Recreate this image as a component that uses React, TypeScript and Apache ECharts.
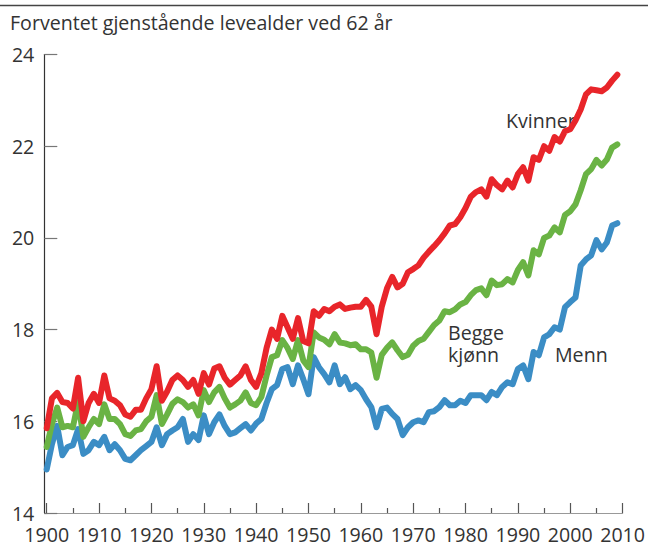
import React, { useEffect, useRef } from "react";
import * as echarts from "echarts";

const startYear = 1900;
const titleText = "Forventet gjenstående levealder ved 62 år";

// Kvinner 1900-2009
const kvinner = [
  15.85, 16.5, 16.62, 16.42, 16.4, 16.28, 16.95, 16.0, 16.4, 16.6,
  16.4, 17.0, 16.5, 16.45, 16.35, 16.15, 16.1, 16.25, 16.25, 16.5,
  16.7, 17.2, 16.45, 16.65, 16.9, 17.0, 16.9, 16.75, 16.9, 16.6,
  17.05, 16.8, 17.15, 17.2, 16.95, 16.8, 16.9, 17.0, 17.2, 16.9,
  16.75, 17.05, 17.6, 18.0, 17.8, 18.3, 18.05, 17.8, 18.25, 17.75,
  17.7, 18.4, 18.3, 18.45, 18.4, 18.5, 18.55, 18.45, 18.48, 18.5,
  18.5, 18.65, 18.5, 17.9, 18.5, 18.9, 19.15, 18.92, 19.0, 19.25,
  19.32, 19.4, 19.57, 19.7, 19.82, 19.95, 20.1, 20.27, 20.3, 20.45,
  20.65, 20.9, 21.0, 21.06, 20.9, 21.28, 21.15, 21.06, 21.25, 21.1,
  21.39, 21.54, 21.25, 21.76, 21.7, 22.0, 21.9, 22.2, 22.1, 22.33,
  22.37, 22.56, 22.8, 23.13, 23.24, 23.22, 23.2, 23.28, 23.43, 23.56,
];

// Begge kjønn 1900-2009
const begge = [
  15.44, 15.94, 16.3, 15.87, 15.9, 15.87, 16.42, 15.66, 15.87, 16.05,
  15.94, 16.37, 16.05, 16.05, 15.94, 15.72, 15.68, 15.8, 15.83, 16.0,
  16.1, 16.57, 15.94, 16.15, 16.38, 16.48, 16.42, 16.3, 16.37, 16.13,
  16.68, 16.42, 16.63, 16.75, 16.5, 16.3, 16.37, 16.45, 16.63, 16.4,
  16.35, 16.53, 17.0, 17.4, 17.44, 17.77, 17.6, 17.36, 17.77, 17.33,
  17.18, 17.94, 17.83, 17.78, 17.68, 17.9, 17.72, 17.7, 17.66, 17.68,
  17.57, 17.57, 17.5, 16.95, 17.45, 17.6, 17.72, 17.55, 17.4, 17.45,
  17.65, 17.75, 17.8, 17.95, 18.1, 18.2, 18.4, 18.38, 18.44, 18.55,
  18.6, 18.75, 18.86, 18.9, 18.75, 19.07, 18.97, 18.99, 19.1, 19.03,
  19.3, 19.47, 19.18, 19.73, 19.64, 20.0, 20.05, 20.23, 20.12, 20.5,
  20.58, 20.73, 21.04, 21.39, 21.5, 21.7, 21.58, 21.71, 21.97, 22.04,
];

// Menn 1900-2009
const menn = [
  14.95, 15.5, 15.9, 15.26, 15.44, 15.48, 15.83, 15.29, 15.37, 15.55,
  15.48, 15.66, 15.37, 15.5, 15.37, 15.18, 15.15, 15.26, 15.37, 15.46,
  15.55, 15.87, 15.48, 15.72, 15.8, 15.87, 16.05, 15.55, 15.72, 15.59,
  16.13, 15.72, 15.98, 16.15, 15.9, 15.72, 15.76, 15.85, 15.94, 15.8,
  15.95, 16.05, 16.4, 16.7, 16.79, 17.14, 17.18, 16.81, 17.22, 16.92,
  16.59, 17.4, 17.18, 17.03, 16.85, 17.22, 16.81, 16.96, 16.7, 16.79,
  16.68, 16.48, 16.31, 15.87, 16.27, 16.3, 16.16, 16.05, 15.7, 15.87,
  15.98, 16.02, 15.98, 16.2, 16.22, 16.31, 16.46, 16.35, 16.35, 16.45,
  16.4, 16.57, 16.57, 16.57, 16.46, 16.64, 16.57, 16.75, 16.85, 16.81,
  17.14, 17.22, 16.92, 17.51, 17.44, 17.83, 17.9, 18.05, 18.0, 18.49,
  18.6, 18.7, 19.4, 19.53, 19.62, 19.95, 19.75, 19.9, 20.27, 20.32,
];

const xMin = 1900;
const xMax = 2010;
const xStep = 10;
const yMin = 14;
const yMax = 24;
const yStep = 2;

const seriesNames = ["Kvinner", "Begge kjønn", "Menn"];
const seriesColors = ["#e8252a", "#6ab344", "#3b8dc5"];

export default function App() {
  const ref = useRef<HTMLDivElement>(null);
  useEffect(() => {
    document.body.style.margin = "0";
    const chart = echarts.init(ref.current!, null, { renderer: "svg" });
    const font = "'Open Sans', sans-serif";
    const fs = 19.6;
    const toPairs = (arr: number[]) => arr.map((v, i) => [startYear + i, v]);
    const labelStyle = (text: string) => ({
      text,
      fill: "#333",
      font: `${fs}px ${font}`,
      lineHeight: 21.5,
      textAlign: "left",
      textVerticalAlign: "middle",
    });
    chart.setOption({
      animation: false,
      backgroundColor: "#ffffff",
      grid: { left: 46.7, right: 21.6, top: 54.5, bottom: 30.5 },
      xAxis: {
        type: "value",
        min: xMin,
        max: xMax,
        interval: xStep,
        axisLine: { show: true, lineStyle: { color: "#999", width: 1.2 } },
        axisTick: { show: true, inside: true, length: 10, lineStyle: { color: "#555", width: 1.2 } },
        minorTick: { show: true, splitNumber: 2, length: 5, lineStyle: { color: "#555", width: 1.2 } },
        splitLine: { show: false },
        minorSplitLine: { show: false },
        axisLabel: {
          fontFamily: font,
          fontSize: fs,
          lineHeight: 18,
          color: "#333",
          margin: 12,
          formatter: (v: number) => String(v),
        },
      },
      yAxis: {
        type: "value",
        min: yMin,
        max: yMax,
        interval: yStep,
        offset: 2.4,
        axisLine: { show: true, lineStyle: { color: "#333", width: 1.2 } },
        axisTick: { show: true, inside: true, length: 13, lineStyle: { color: "#777", width: 1.2 } },
        splitLine: { show: false },
        axisLabel: { fontFamily: font, fontSize: fs, lineHeight: 18, color: "#333", margin: 10 },
      },
      graphic: [
        { type: "line", shape: { x1: 0, y1: 5.5, x2: 648, y2: 5.5 }, style: { stroke: "#444", lineWidth: 1.5 } },
        { type: "line", shape: { x1: 44.3, y1: 513.5, x2: 47.5, y2: 513.5 }, style: { stroke: "#999", lineWidth: 1.2 } },
        { type: "text", x: 10, y: 22, style: labelStyle(titleText) },
        { type: "text", x: 506, y: 120.5, style: labelStyle("Kvinner") },
        { type: "text", x: 448, y: 343.5, style: labelStyle("Begge\nkjønn") },
        { type: "text", x: 555, y: 354.5, style: labelStyle("Menn") },
      ],
      series: [kvinner, begge, menn].map((arr, i) => ({
        name: seriesNames[i],
        type: "line",
        data: toPairs(arr),
        showSymbol: false,
        symbol: "none",
        z: 3 - i,
        lineStyle: { color: seriesColors[i], width: 6, cap: "round", join: "round" },
      })),
    });
    return () => chart.dispose();
  }, []);
  return <div ref={ref} style={{ width: 648, height: 544 }} />;
}
